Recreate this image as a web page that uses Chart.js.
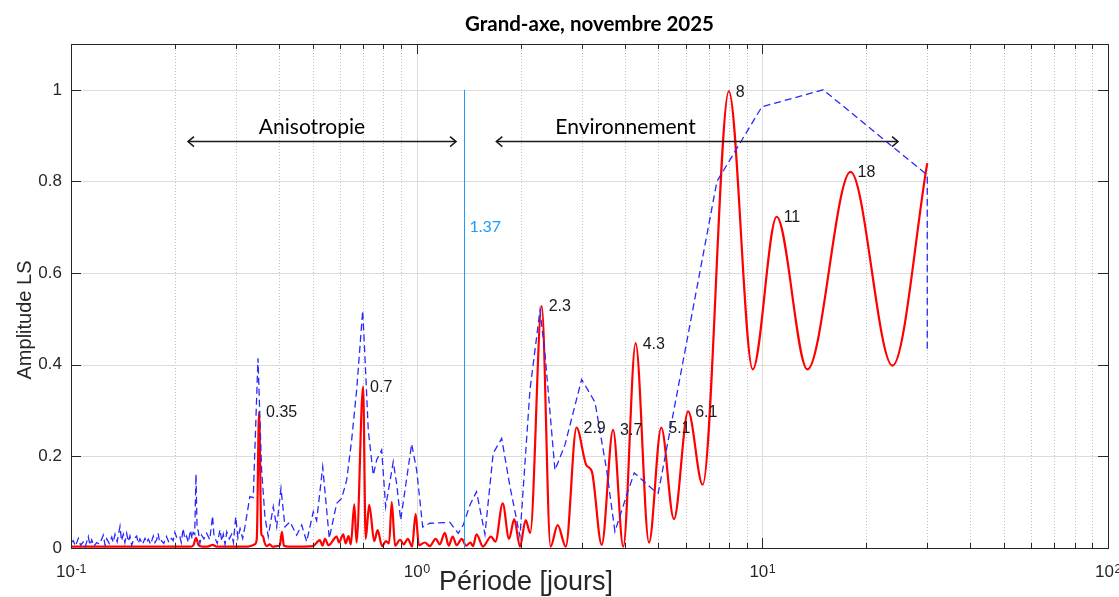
<!DOCTYPE html>
<html>
<head>
<meta charset="utf-8">
<title>Grand-axe, novembre 2025</title>
<script src="https://cdn.jsdelivr.net/npm/chart.js@4.4.1/dist/chart.umd.min.js"></script>
<style>
  html, body { margin: 0; padding: 0; background: #fff; }
</style>
</head>
<body>
<canvas id="myChart" width="1119" height="597"></canvas>
<script>
// Lomb-Scargle amplitude, major axis, November 2025

// labelled peaks of the red spectrum (period in days, amplitude)
const peakPeriod = [0.35, 0.7, 2.3, 2.9, 3.7, 4.3, 5.1, 6.1, 8, 11, 18];
const peakAmp = [0.297, 0.352, 0.528, 0.263, 0.258, 0.447, 0.263, 0.298, 0.997, 0.723, 0.821];

// the rest of the red spectrum between the peaks
const redPeriod = [
    0.100, 0.150, 0.200, 0.222, 0.226, 0.230, 0.234, 0.240, 0.2485, 0.2568, 0.264, 0.300, 0.325, 0.336,
    0.340, 0.3447, 0.3554, 0.359, 0.363, 0.368, 0.376, 0.382, 0.395, 0.402, 0.4075, 0.413, 0.425, 0.460,
    0.500, 0.525, 0.534, 0.543, 0.556, 0.587, 0.596, 0.613, 0.623, 0.635, 0.645, 0.660, 0.670,
    0.712, 0.729, 0.754, 0.771, 0.794, 0.815, 0.832, 0.847, 0.866, 0.895, 0.918, 0.943, 0.970, 0.993,
    1.015, 1.056, 1.091, 1.135, 1.166, 1.206, 1.238, 1.271, 1.305, 1.350, 1.390, 1.430, 1.455, 1.490,
    1.555, 1.640, 1.690, 1.774, 1.850, 1.916, 1.990, 2.067, 2.130,
    2.440, 2.558, 2.700, 3.100, 3.210, 3.430, 3.960, 4.700, 5.550, 6.720, 9.380, 13.50, 23.80, 30.00
];
const redAmp = [
    0.003, 0.003, 0.003, 0.003, 0.006, 0.022, 0.006, 0.003, 0.003, 0.007, 0.003, 0.003, 0.003, 0.006,
    0.008, 0.020, 0.030, 0.026, 0.012, 0.004, 0.008, 0.003, 0.004, 0.006, 0.035, 0.005, 0.003, 0.003,
    0.004, 0.017, 0.005, 0.020, 0.006, 0.025, 0.012, 0.030, 0.010, 0.026, 0.008, 0.095, 0.012,
    0.020, 0.094, 0.015, 0.039, 0.004, 0.015, 0.010, 0.100, 0.005, 0.018, 0.008, 0.020, 0.003, 0.074,
    0.006, 0.012, 0.004, 0.020, 0.008, 0.033, 0.005, 0.025, 0.006, 0.020, 0.005, 0.012, 0.004, 0.030,
    0.003, 0.025, 0.014, 0.0975, 0.020, 0.063, 0.003, 0.061, 0.033,
    0.003, 0.050, 0.003, 0.180, 0.168, 0.007, 0.003, 0.012, 0.063, 0.138, 0.390, 0.390, 0.398, 0.840
];

// blue dashed spectrum
const bluePeriod = [
    0.1000, 0.1015, 0.1030, 0.1050, 0.1066, 0.1085, 0.1100, 0.1122, 0.1135, 0.1148, 0.1165, 0.1187,
    0.1210, 0.1240, 0.1255, 0.1268, 0.1290, 0.1312, 0.1325, 0.1341, 0.1360, 0.1386, 0.1400, 0.1417,
    0.1432, 0.1449, 0.1465, 0.1481, 0.1498, 0.1520, 0.1549, 0.1565, 0.1583, 0.1610, 0.1637, 0.1655,
    0.1674, 0.1700, 0.1730, 0.1750, 0.1769, 0.1787, 0.1805, 0.1827, 0.1855, 0.1889, 0.1920, 0.1953,
    0.1975, 0.1997, 0.2030, 0.2066, 0.2085, 0.2110, 0.2135, 0.2159, 0.2185, 0.2217, 0.2240, 0.2256,
    0.2280, 0.2299, 0.2316, 0.2333, 0.2360, 0.2386, 0.2425, 0.2468, 0.2520, 0.2568, 0.2590, 0.2608,
    0.2650, 0.2698, 0.2730, 0.2758, 0.2790, 0.2822, 0.2870, 0.2917, 0.2950, 0.2996, 0.3040, 0.3084,
    0.3138, 0.3185, 0.3292, 0.3367, 0.3420, 0.3475, 0.3560, 0.3640, 0.3721, 0.3847, 0.3936, 0.4050,
    0.4160, 0.4300, 0.4497, 0.4649, 0.4806, 0.5022, 0.5137, 0.5348, 0.5587, 0.5870, 0.6068, 0.6273,
    0.6486, 0.6705, 0.6980, 0.7086, 0.7244, 0.7489, 0.7660, 0.7921, 0.8134, 0.8556, 0.8753, 0.8990,
    0.9672, 1.000, 1.041, 1.093, 1.248, 1.319, 1.364, 1.426, 1.490, 1.576, 1.665, 1.762, 1.862,
    1.990, 2.127, 2.274, 2.350, 2.512, 2.685, 3.001, 3.281, 3.545, 3.746, 4.050, 4.260, 4.835, 5.000,
    7.390, 9.970, 15.00, 30.00, 30.00
];
const blueAmp = [
    0.012, 0.016, 0.004, 0.021, 0.006, 0.013, 0.003, 0.025, 0.006, 0.018, 0.004, 0.012,
    0.008, 0.028, 0.006, 0.020, 0.010, 0.024, 0.012, 0.030, 0.014, 0.047, 0.016, 0.030,
    0.012, 0.032, 0.014, 0.026, 0.006, 0.020, 0.026, 0.010, 0.020, 0.008, 0.021, 0.012,
    0.019, 0.008, 0.026, 0.012, 0.018, 0.032, 0.012, 0.016, 0.010, 0.025, 0.012, 0.021,
    0.016, 0.034, 0.020, 0.024, 0.012, 0.043, 0.020, 0.026, 0.012, 0.039, 0.020, 0.034,
    0.030, 0.161, 0.040, 0.039, 0.010, 0.028, 0.020, 0.032, 0.018, 0.070, 0.030, 0.022,
    0.010, 0.040, 0.015, 0.030, 0.008, 0.035, 0.020, 0.030, 0.012, 0.068, 0.022, 0.042,
    0.021, 0.046, 0.112, 0.110, 0.260, 0.414, 0.170, 0.068, 0.025, 0.090, 0.046, 0.130,
    0.046, 0.057, 0.028, 0.050, 0.014, 0.079, 0.060, 0.177, 0.021, 0.0975, 0.108, 0.148,
    0.236, 0.345, 0.518, 0.417, 0.2575, 0.159, 0.192, 0.214, 0.090, 0.188, 0.140, 0.061,
    0.227, 0.170, 0.046, 0.054, 0.056, 0.032, 0.050, 0.094, 0.123, 0.030, 0.207, 0.239, 0.134,
    0.025, 0.345, 0.519, 0.425, 0.170, 0.225, 0.368, 0.318, 0.170, 0.036, 0.115, 0.164, 0.127, 0.120,
    0.800, 0.963, 1.000, 0.814, 0.430
];

// axes
const xTickValues = [0.1, 1, 10, 100];
const xTickExp = ['-1', '0', '1', '2'];
const yTickValues = [0, 0.2, 0.4, 0.6, 0.8, 1];
const yTickLabels = ['0', '0.2', '0.4', '0.6', '0.8', '1'];

// separation period and the two ranges
const cutPeriod = 1.37;
const ranges = [
    { text: 'Anisotropie', from: 0.218, to: 1.30, level: 0.887, textAt: 0.498 },
    { text: 'Environnement', from: 1.70, to: 24.7, level: 0.887, textAt: 4.02 }
];

const mainFont = '"Liberation Sans", Arial, sans-serif';
const noteFont = 'Lato, "Open Sans", sans-serif';

// red series = peaks merged with the points between them
const redPoints = redPeriod.map((p, i) => ({ x: p, y: redAmp[i] }))
    .concat(peakPeriod.map((p, i) => ({ x: p, y: peakAmp[i] })))
    .sort((a, b) => a.x - b.x);
const bluePoints = bluePeriod.map((p, i) => ({ x: p, y: blueAmp[i] }));

function minorValues() {
    const out = [];
    [0.1, 1, 10].forEach(dec => {
        for (let k = 2; k <= 9; k++) out.push(k * dec);
    });
    return out;
}

function line(ctx, x1, y1, x2, y2) {
    ctx.beginPath();
    ctx.moveTo(x1, y1);
    ctx.lineTo(x2, y2);
    ctx.stroke();
}

const axesPlugin = {
    id: 'axesPlugin',
    beforeDatasetsDraw(chart) {
        const { ctx, chartArea: a, scales: { x, y } } = chart;
        ctx.save();
        ctx.lineWidth = 1;

        // dotted minor grid
        ctx.strokeStyle = '#c2c2c2';
        ctx.setLineDash([1, 2]);
        minorValues().forEach(v => {
            const px = Math.round(x.getPixelForValue(v)) + 0.5;
            line(ctx, px, a.top, px, a.bottom);
        });

        // solid major grid
        ctx.setLineDash([]);
        ctx.strokeStyle = '#dcdcdc';
        xTickValues.slice(1, -1).forEach(v => {
            const px = Math.round(x.getPixelForValue(v)) + 0.5;
            line(ctx, px, a.top, px, a.bottom);
        });
        yTickValues.slice(1).forEach(v => {
            const py = Math.round(y.getPixelForValue(v)) + 0.5;
            line(ctx, a.left, py, a.right, py);
        });
        ctx.restore();
    },
    afterDatasetsDraw(chart) {
        const { ctx, chartArea: a, scales: { x, y } } = chart;
        ctx.save();

        // box and inward ticks
        ctx.strokeStyle = '#262626';
        ctx.lineWidth = 1;
        ctx.strokeRect(Math.round(a.left) + 0.5, Math.round(a.top) + 0.5,
            Math.round(a.right - a.left), Math.round(a.bottom - a.top));
        yTickValues.forEach(v => {
            const py = Math.round(y.getPixelForValue(v)) + 0.5;
            line(ctx, a.left, py, a.left + 10, py);
            line(ctx, a.right, py, a.right - 10, py);
        });
        xTickValues.forEach(v => {
            const px = Math.round(x.getPixelForValue(v)) + 0.5;
            line(ctx, px, a.bottom, px, a.bottom - 10);
            line(ctx, px, a.top, px, a.top + 10);
        });
        minorValues().forEach(v => {
            const px = Math.round(x.getPixelForValue(v)) + 0.5;
            line(ctx, px, a.bottom, px, a.bottom - 5);
            line(ctx, px, a.top, px, a.top + 5);
        });

        // tick labels
        ctx.fillStyle = '#262626';
        ctx.font = '17px ' + mainFont;
        ctx.textAlign = 'right';
        ctx.textBaseline = 'middle';
        yTickValues.forEach((v, i) => {
            ctx.fillText(yTickLabels[i], a.left - 9, y.getPixelForValue(v));
        });
        ctx.textBaseline = 'alphabetic';
        xTickValues.forEach((v, i) => {
            const px = x.getPixelForValue(v);
            ctx.font = '17px ' + mainFont;
            const w1 = ctx.measureText('10').width;
            ctx.font = '12.5px ' + mainFont;
            const w2 = ctx.measureText(xTickExp[i]).width;
            const left = px - (w1 + w2) / 2;
            ctx.textAlign = 'left';
            ctx.font = '17px ' + mainFont;
            ctx.fillText('10', left, a.bottom + 29);
            ctx.font = '12.5px ' + mainFont;
            ctx.fillText(xTickExp[i], left + w1 + 0.5, a.bottom + 25);
        });

        // axis titles
        ctx.textAlign = 'center';
        ctx.textBaseline = 'alphabetic';
        ctx.font = '27px ' + mainFont;
        ctx.fillText('Période [jours]', 526, 590);
        ctx.save();
        ctx.font = '20px ' + mainFont;
        ctx.textBaseline = 'middle';
        ctx.translate(25, 320);
        ctx.rotate(-Math.PI / 2);
        ctx.fillText('Amplitude LS', 0, 0);
        ctx.restore();

        // chart title
        ctx.fillStyle = '#000';
        ctx.font = 'bold 20.5px ' + noteFont;
        ctx.textBaseline = 'alphabetic';
        ctx.fillText('Grand-axe, novembre 2025', (a.left + a.right) / 2, 31);

        // separation line at 1.37 days
        const cx = Math.round(x.getPixelForValue(cutPeriod)) + 0.5;
        ctx.strokeStyle = '#1a9cf8';
        ctx.lineWidth = 1;
        line(ctx, cx, y.getPixelForValue(0), cx, y.getPixelForValue(1));
        ctx.fillStyle = '#1a9cf8';
        ctx.font = '16px ' + noteFont;
        ctx.textAlign = 'left';
        ctx.fillText(String(cutPeriod), cx + 5, 232);

        // ranges with double arrows
        ctx.strokeStyle = '#1a1a1a';
        ctx.fillStyle = '#000';
        ctx.lineWidth = 1.5;
        ctx.font = '21px ' + noteFont;
        ctx.textAlign = 'center';
        ranges.forEach(r => {
            const x1 = x.getPixelForValue(r.from);
            const x2 = x.getPixelForValue(r.to);
            const py = y.getPixelForValue(r.level);
            line(ctx, x1, py, x2, py);
            ctx.beginPath();
            ctx.moveTo(x1 + 6, py - 5);
            ctx.lineTo(x1, py);
            ctx.lineTo(x1 + 6, py + 5);
            ctx.moveTo(x2 - 6, py - 5);
            ctx.lineTo(x2, py);
            ctx.lineTo(x2 - 6, py + 5);
            ctx.stroke();
            ctx.fillText(r.text, x.getPixelForValue(r.textAt), py - 8);
        });

        // peak labels
        ctx.fillStyle = '#1a1a1a';
        ctx.font = '16px ' + mainFont;
        ctx.textAlign = 'left';
        ctx.textBaseline = 'middle';
        peakPeriod.forEach((p, i) => {
            ctx.fillText(String(p), x.getPixelForValue(p) + 7, y.getPixelForValue(peakAmp[i]) + 1);
        });
        ctx.restore();
    }
};

const ctx = document.getElementById('myChart');

new Chart(ctx, {
    type: 'line',
    data: {
        datasets: [
            {
                label: 'spectre pointillé',
                data: bluePoints,
                borderColor: 'rgb(40, 40, 255)',
                borderWidth: 1.3,
                borderDash: [7, 4],
                pointRadius: 0,
                tension: 0,
                fill: false
            },
            {
                label: 'spectre',
                data: redPoints,
                borderColor: '#ff0000',
                borderWidth: 2.2,
                pointRadius: 0,
                cubicInterpolationMode: 'monotone',
                fill: false
            }
        ]
    },
    options: {
        responsive: false,
        animation: false,
        devicePixelRatio: 1,
        layout: { padding: { left: 71, right: 11, top: 44, bottom: 49 } },
        plugins: {
            legend: { display: false },
            title: { display: false },
            tooltip: { enabled: false }
        },
        scales: {
            x: { type: 'logarithmic', min: 0.1, max: 100, display: false },
            y: { type: 'linear', min: 0, max: 1.1, display: false }
        }
    },
    plugins: [axesPlugin]
});
</script>
</body>
</html>
